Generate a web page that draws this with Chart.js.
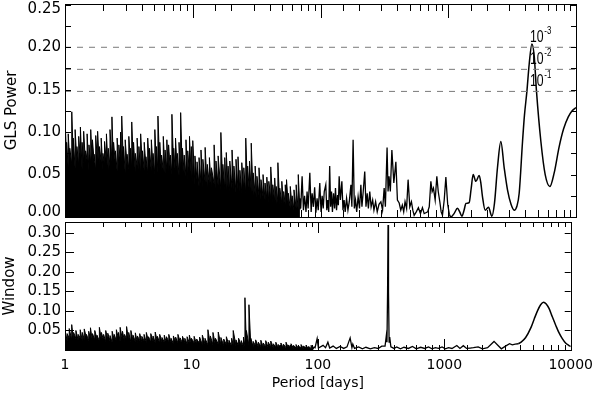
<!DOCTYPE html>
<html><head><meta charset="utf-8">
<script src="https://cdn.jsdelivr.net/npm/chart.js@4.4.0/dist/chart.umd.min.js"></script>
<style>
html,body{margin:0;padding:0;background:#fff;width:600px;height:395px;overflow:hidden;}
#wrap{position:relative;width:600px;height:395px;}
canvas{position:absolute;left:0;}
#c1{top:-10px;} #c2{top:206px;}
</style></head><body><div id="wrap"><canvas id="c1" width="600" height="242"></canvas><canvas id="c2" width="600" height="189"></canvas></div>
<script>
// ---------- axis / labels ----------
const periodRange = [1, 10000];
const glsRange = [0, 0.251];
const windowRange = [0, 0.328];
const fapLevels = [0.200, 0.174, 0.148];
const fapExponents = ['-3', '-2', '-1'];

// ---------- GLS power (top) ----------
// dense short-period region: local maxima and the minima just before them
const glsDensePeriod = [1.00,1.03,1.06,1.09,1.13,1.16,1.20,1.24,1.28,1.32,1.36,1.40,1.45,1.49,1.54,1.59,1.64,1.69,1.74,1.80,1.86,1.92,1.98,2.04,2.11,2.18,2.25,2.33,2.40,2.48,2.56,2.64,2.72,2.78,2.87,2.96,3.06,3.16,3.26,3.33,3.44,3.55,3.67,3.79,3.91,4.04,4.17,4.30,4.44,4.59,4.74,4.89,5.05,5.21,5.34,5.52,5.70,5.88,6.07,6.27,6.47,6.68,6.87,7.10,7.33,7.57,7.81,8.04,8.30,8.57,8.85,9.14,9.43,9.74,
 10.0,10.4,10.8,11.2,11.6,12.0,12.5,13.0,13.5,14.0,14.7,15.2,15.8,16.6,17.2,17.8,18.3,18.9,19.5,20.3,21.0,21.8,22.6,23.4,24.2,25.1,26.0,26.9,27.8,28.7,29.7,30.8,31.8,33.0,34.2,35.5,36.8,38.0,39.4,40.8,42.3,43.8,45.0,46.4,48.0,49.8,51.5,53.0,54.2,56.0,58.0,60.0,62.0,64.5,67.0,69.0];
const glsDensePeak = [0.117,0.088,0.098,0.081,0.124,0.093,0.103,0.083,0.095,0.106,0.088,0.101,0.078,0.098,0.085,0.103,0.091,0.074,0.096,0.101,0.083,0.093,0.075,0.089,0.098,0.081,0.103,0.118,0.088,0.078,0.093,0.085,0.100,0.119,0.083,0.091,0.074,0.095,0.081,0.112,0.088,0.075,0.093,0.083,0.098,0.078,0.088,0.071,0.093,0.081,0.091,0.075,0.103,0.083,0.119,0.088,0.073,0.095,0.079,0.091,0.085,0.073,0.121,0.081,0.093,0.075,0.088,0.123,0.081,0.073,0.091,0.078,0.095,0.083,
 0.090,0.072,0.065,0.070,0.079,0.068,0.082,0.062,0.070,0.058,0.085,0.066,0.072,0.0996,0.062,0.070,0.076,0.060,0.066,0.079,0.060,0.068,0.071,0.055,0.064,0.058,0.093,0.060,0.066,0.087,0.052,0.060,0.048,0.058,0.044,0.050,0.040,0.047,0.042,0.059,0.038,0.046,0.036,0.064,0.034,0.042,0.030,0.038,0.044,0.028,0.036,0.025,0.032,0.038,0.050,0.022];
const glsDenseTrough = [0.060,0.068,0.058,0.066,0.062,0.070,0.057,0.065,0.061,0.068,0.056,0.064,0.060,0.067,0.055,0.063,0.059,0.066,0.054,0.062,0.058,0.065,0.056,0.061,0.064,0.055,0.060,0.066,0.057,0.062,0.054,0.060,0.063,0.056,0.059,0.052,0.061,0.057,0.063,0.055,0.058,0.052,0.060,0.056,0.050,0.058,0.054,0.060,0.051,0.056,0.053,0.058,0.050,0.055,0.052,0.057,0.049,0.054,0.051,0.056,0.048,0.053,0.050,0.055,0.047,0.052,0.049,0.054,0.046,0.051,0.048,0.044,0.050,0.046,
 0.042,0.038,0.044,0.036,0.040,0.035,0.041,0.034,0.038,0.033,0.039,0.034,0.037,0.032,0.036,0.033,0.031,0.035,0.030,0.034,0.032,0.029,0.033,0.030,0.028,0.032,0.027,0.030,0.026,0.029,0.025,0.027,0.023,0.026,0.021,0.024,0.020,0.022,0.018,0.021,0.017,0.019,0.015,0.018,0.014,0.016,0.012,0.014,0.011,0.013,0.010,0.011,0.008,0.010,0.007,0.009];

// intermediate periods (noisy, narrow peaks)
const glsMidPeriod = [69,70,71.8,73.5,75,77,78.5,80,82.5,84.5,86,88,90,92,94,96,98.7,101,103,105,107,110,112,114,116,118,120,122,124,126.5,129,131,133.5,136,138,140,143,147,150,153,156,160,164,168,173,176,180,184,188,192,197,202,207,211,216,222,227,232,237,243,249,256,262,270,278,287,297,306,315,322,332,338,344,352,362,375,389,400,413,425,437,448,459,472,485,500,515,528,541,562,584,606,628,648,668,690,710,731,748,766,790,814,835,859,880,901,930,958,990,1020];
const glsMidPower  = [0.022,0.010,0.048,0.008,0.025,0.006,0.030,0.010,0.052,0.006,0.028,0.012,0.035,0.005,0.022,0.008,0.040,0.006,0.025,0.010,0.030,0.038,0.008,0.020,0.006,0.060,0.012,0.030,0.006,0.028,0.010,0.034,0.008,0.026,0.014,0.048,0.020,0.042,0.008,0.020,0.006,0.022,0.008,0.018,0.038,0.012,0.091,0.010,0.020,0.006,0.024,0.010,0.038,0.012,0.030,0.0535,0.012,0.028,0.010,0.030,0.012,0.020,0.008,0.018,0.006,0.015,0.018,0.008,0.034,0.012,0.082,0.030,0.048,0.030,0.079,0.040,0.065,0.020,0.0165,0.008,0.014,0.006,0.018,0.010,0.044,0.012,0.018,0.008,0.002,0.006,0.011,0.004,0.011,0.004,0.005,0.006,0.012,0.042,0.030,0.034,0.020,0.048,0.030,0.018,0.006,0.002,0.020,0.047,0.015,0.003];

// long periods (smooth)
const glsLongPeriod = [1020,1048,1110,1181,1230,1278,1330,1375,1458,1510,1567,1645,1746,1800,1853,1945,2065,2194,2300,2428,2580,2741,2909,3100,3283,3450,3591,3815,3950,4127,4300,4516,4707,4907,5310,5739,6245,6748,7385,8000,8700,9300,10000];
const glsLongPower  = [0.003,0.000,0.004,0.0103,0.006,0.001,0.008,0.016,0.017,0.033,0.050,0.042,0.049,0.040,0.024,0.008,0.0115,0.001,0.016,0.058,0.089,0.058,0.032,0.015,0.008,0.013,0.028,0.089,0.120,0.148,0.180,0.204,0.190,0.148,0.089,0.050,0.036,0.052,0.083,0.104,0.118,0.125,0.129];

// ---------- Window function (bottom) ----------
const winDensePeriod = [1.00,1.04,1.08,1.13,1.17,1.22,1.27,1.32,1.37,1.42,1.48,1.54,1.59,1.65,1.72,1.79,1.87,1.94,2.02,2.10,2.18,2.27,2.36,2.45,2.55,2.65,2.73,2.85,2.96,3.07,3.19,3.32,3.45,3.60,3.74,3.90,4.05,4.22,4.40,4.58,4.77,4.97,5.17,5.39,5.61,5.85,6.10,6.35,6.62,6.90,7.20,7.50,7.82,8.15,8.50,8.86,9.24,9.63,
 10.0,10.5,11.0,11.6,12.2,12.8,13.5,14.1,14.8,15.5,16.3,17.1,18.0,18.9,19.8,20.8,21.4,22.5,23.6,24.8,25.8,26.5,27.2,28.5,29.5,30.8,32.2,33.8,35.4,37.0,38.7,40.5,42.4,44.4,46.5,48.7,51.0,53.4,56.0,58.5,61.3,64.2,67.2,70.3,73.6,77.0,80.6,84.4,88.4,92.5];
const winDensePeak = [0.050,0.042,0.055,0.065,0.045,0.050,0.040,0.052,0.045,0.054,0.040,0.048,0.057,0.042,0.050,0.038,0.058,0.045,0.040,0.050,0.043,0.037,0.048,0.040,0.052,0.045,0.058,0.048,0.040,0.060,0.045,0.050,0.038,0.044,0.036,0.042,0.035,0.040,0.045,0.034,0.042,0.036,0.046,0.035,0.040,0.032,0.038,0.034,0.040,0.030,0.036,0.033,0.040,0.031,0.035,0.030,0.034,0.038,
 0.030,0.035,0.028,0.033,0.038,0.030,0.052,0.036,0.045,0.030,0.046,0.032,0.028,0.034,0.025,0.030,0.050,0.026,0.030,0.024,0.033,0.134,0.050,0.116,0.030,0.022,0.026,0.020,0.025,0.018,0.024,0.020,0.023,0.016,0.020,0.014,0.018,0.015,0.020,0.013,0.016,0.012,0.014,0.010,0.014,0.010,0.012,0.009,0.012,0.008];
const winDenseTrough = [0.028,0.024,0.030,0.026,0.022,0.029,0.025,0.031,0.023,0.027,0.030,0.024,0.028,0.022,0.026,0.029,0.023,0.027,0.025,0.021,0.027,0.024,0.020,0.026,0.023,0.028,0.022,0.025,0.021,0.026,0.023,0.020,0.025,0.022,0.019,0.024,0.021,0.023,0.019,0.022,0.020,0.024,0.019,0.021,0.018,0.022,0.020,0.017,0.021,0.019,0.016,0.020,0.018,0.021,0.017,0.019,0.016,0.018,
 0.016,0.018,0.015,0.017,0.014,0.016,0.013,0.015,0.014,0.012,0.015,0.013,0.011,0.014,0.012,0.010,0.013,0.011,0.010,0.012,0.009,0.011,0.010,0.012,0.009,0.008,0.010,0.008,0.009,0.007,0.008,0.006,0.008,0.006,0.007,0.005,0.007,0.005,0.006,0.005,0.006,0.004,0.005,0.004,0.005,0.004,0.005,0.003,0.004,0.003];

const winMidPeriod = [92.5,95,98.7,101,110,115,120,124,132,140,150,160,170,180,186,189,195,210,225,240,260,280,300,320,340,348,352,356,359,362,366,370,378,400,420,450,480,520,560,600,650,700,750,800,850,900,960,1020,1080,1150,1256,1330,1414,1500,1600,1700,1853,2000,2200,2473,2650,2825,3050,3283,3450,3635,3850];
const winMidPower  = [0.008,0.006,0.029,0.005,0.012,0.006,0.020,0.005,0.010,0.004,0.009,0.004,0.008,0.031,0.006,0.015,0.004,0.008,0.003,0.007,0.003,0.006,0.004,0.010,0.010,0.037,0.020,0.150,0.320,0.150,0.020,0.033,0.008,0.004,0.008,0.003,0.007,0.004,0.009,0.003,0.007,0.004,0.008,0.003,0.006,0.004,0.008,0.003,0.006,0.004,0.0115,0.004,0.011,0.004,0.005,0.006,0.008,0.003,0.006,0.022,0.012,0.003,0.010,0.016,0.013,0.015,0.016];

const winLongPeriod = [3850,4053,4400,4853,5150,5468,5780,6095,6400,6748,7150,7620,8050,8577,9100,9680,10000];
const winLongPower  = [0.016,0.020,0.032,0.058,0.080,0.101,0.116,0.1226,0.118,0.106,0.085,0.063,0.045,0.029,0.018,0.0115,0.009];

// ---------- helpers ----------
const pts = (ps, vs) => ps.map((p, i) => ({x: p, y: vs[i]}));
const sawtooth = (ps, lows, highs) => { const d = []; ps.forEach((p, i) => { d.push({x: p, y: lows[i]}, {x: p, y: highs[i]}); }); return d; };
const isDecade = v => Math.abs(Math.log10(v) - Math.round(Math.log10(v))) < 1e-9;

const TICK_FONT = 'DejaVu Sans';

// per-panel decoration settings (kept outside Chart.js options so functions are not resolved as scriptable)
const panelDeco = {
  c1: {xMajorBottom: 12, xMinorBottom: 7, xMajorTop: 14, xMinorTop: 7, yLeft: 6, yRight: 5,
       yLabel: v => (Math.round(v * 1000) % 50 === 0) ? v.toFixed(2) : '',
       yTitle: 'GLS Power', yTitleX: 12, fap: true},
  c2: {xMajorBottom: 11, xMinorBottom: 5, xMajorTop: 11, xMinorTop: 5, yLeft: 9, yRight: 6,
       yLabel: v => v < 0.001 ? '' : v.toFixed(2),
       yTitle: 'Window', yTitleX: 10, xTitle: 'Period [days]', xTitleY: 177}
};

const framePlugin = {
  id: 'frame',
  afterDraw(chart) {
    const {ctx, chartArea: a, scales: {x, y}} = chart;
    const o = panelDeco[chart.canvas.id];
    ctx.save();
    ctx.strokeStyle = '#000'; ctx.lineWidth = 1;
    ctx.strokeRect(Math.round(a.left) + 0.5, Math.round(a.top) + 0.5, Math.round(a.right - a.left), Math.round(a.bottom - a.top));
    ctx.beginPath();
    x.ticks.forEach(t => {
      const v = t.value;
      if (v <= periodRange[0] || v >= periodRange[1]) return;
      const px = Math.round(x.getPixelForValue(v)) + 0.5;
      const major = isDecade(v);
      const lb = major ? o.xMajorBottom : o.xMinorBottom;
      const lt = major ? o.xMajorTop : o.xMinorTop;
      ctx.moveTo(px, a.bottom); ctx.lineTo(px, a.bottom - lb);
      ctx.moveTo(px, a.top); ctx.lineTo(px, a.top + lt);
    });
    y.ticks.forEach(t => {
      const v = t.value;
      if (v <= y.min + 1e-9 || v >= y.max - 1e-9) return;
      const py = Math.round(y.getPixelForValue(v)) + 0.5;
      ctx.moveTo(a.left, py); ctx.lineTo(a.left + o.yLeft, py);
      ctx.moveTo(a.right, py); ctx.lineTo(a.right - o.yRight, py);
    });
    ctx.stroke();
    // y tick labels, kept inside the frame height
    ctx.fillStyle = '#000';
    ctx.font = '15px "DejaVu Sans"';
    ctx.textAlign = 'right'; ctx.textBaseline = 'middle';
    y.ticks.forEach(t => {
      const lab = o.yLabel(t.value);
      if (!lab) return;
      let py = y.getPixelForValue(t.value);
      py = Math.min(Math.max(py, a.top + 5), a.bottom - 5);
      ctx.fillText(lab, a.left - 4, py);
    });
    // axis titles
    if (o.yTitle) {
      ctx.save();
      ctx.font = '15px "DejaVu Sans"';
      ctx.translate(o.yTitleX, (a.top + a.bottom) / 2);
      ctx.rotate(-Math.PI / 2);
      ctx.textAlign = 'center'; ctx.textBaseline = 'middle';
      ctx.fillText(o.yTitle, 0, 0);
      ctx.restore();
    }
    if (o.xTitle) {
      ctx.font = '14px "DejaVu Sans"';
      ctx.textAlign = 'center'; ctx.textBaseline = 'middle';
      ctx.fillText(o.xTitle, (a.left + a.right) / 2, o.xTitleY);
    }
    if (o.fap) {
      const lx = x.getPixelForValue(4365);
      fapLevels.forEach((lv, i) => {
        const py = y.getPixelForValue(lv) - 10;
        ctx.save();
        ctx.translate(lx, py);
        ctx.scale(0.72, 1);
        ctx.font = '17px "Liberation Sans"';
        ctx.textAlign = 'left'; ctx.textBaseline = 'middle';
        ctx.fillText('10', 0, 0);
        const w = ctx.measureText('10').width;
        ctx.font = '11px "Liberation Sans"';
        ctx.fillText(fapExponents[i], w + 1, -6);
        ctx.restore();
      });
    }
    ctx.restore();
  }
};

function xScale(show) {
  return {
    type: 'logarithmic', min: periodRange[0], max: periodRange[1], display: show,
    grid: {display: false, drawTicks: false}, border: {display: false},
    ticks: {
      autoSkip: false, maxRotation: 0, padding: 7, color: '#000',
      font: {family: TICK_FONT, size: 14},
      callback: v => isDecade(v) ? String(Math.round(v)) : ''
    },
    afterFit: s => { if (show) s.height = 45; }
  };
}

function yScale(range, step) {
  return {
    min: range[0], max: range[1],
    grid: {display: false, drawTicks: false}, border: {display: false},
    ticks: {stepSize: step, includeBounds: false, display: false},
    afterFit: s => { s.width = 65; }
  };
}

const lineDefaults = {pointRadius: 0, borderColor: '#000', fill: false, tension: 0};

new Chart(document.getElementById('c1'), {
  type: 'line',
  data: {datasets: [
    ...fapLevels.map(lv => ({...lineDefaults, data: [{x: periodRange[0], y: lv}, {x: periodRange[1], y: lv}], borderColor: '#7a7a7a', borderWidth: 1, borderDash: [6, 6]})),
    {...lineDefaults, data: pts(glsLongPeriod, glsLongPower), borderWidth: 1.5, cubicInterpolationMode: 'monotone'},
    {...lineDefaults, data: pts(glsMidPeriod, glsMidPower), borderWidth: 1.3},
    {...lineDefaults, data: sawtooth(glsDensePeriod, glsDenseTrough, glsDensePeak), borderWidth: 1, fill: 'origin', backgroundColor: '#000'}
  ]},
  options: {
    responsive: false, animation: false, devicePixelRatio: 1,
    layout: {padding: {left: 0, right: 24, top: 14, bottom: 15}},
    scales: {x: xScale(false), y: yScale(glsRange, 0.025)},
    plugins: {legend: {display: false}, tooltip: {enabled: false}}
  },
  plugins: [framePlugin]
});

new Chart(document.getElementById('c2'), {
  type: 'line',
  data: {datasets: [
    {...lineDefaults, data: pts(winLongPeriod, winLongPower), borderWidth: 1.5, cubicInterpolationMode: 'monotone'},
    {...lineDefaults, data: pts(winMidPeriod, winMidPower), borderWidth: 1.3},
    {...lineDefaults, data: sawtooth(winDensePeriod, winDenseTrough, winDensePeak), borderWidth: 1, fill: 'origin', backgroundColor: '#000'}
  ]},
  options: {
    responsive: false, animation: false, devicePixelRatio: 1,
    layout: {padding: {left: 0, right: 24, top: 16, bottom: 0}},
    scales: {x: xScale(true), y: yScale(windowRange, 0.05)},
    plugins: {legend: {display: false}, tooltip: {enabled: false}}
  },
  plugins: [framePlugin]
});
</script>
</body></html>
